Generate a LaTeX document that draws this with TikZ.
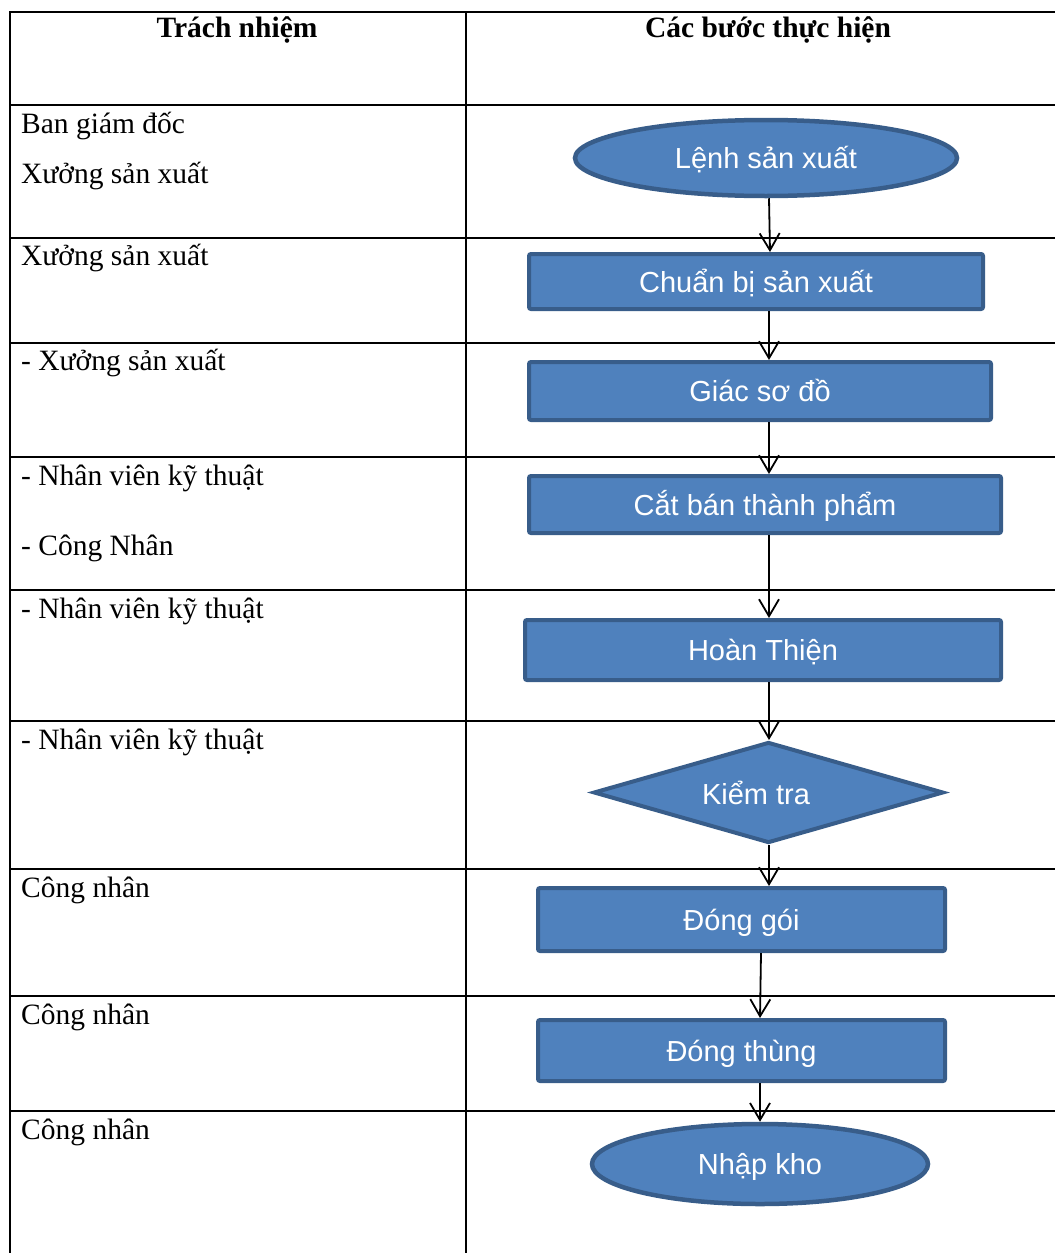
\documentclass[tikz,border=0pt]{standalone}
\usepackage{fontspec}
\setmainfont{Liberation Serif}
\newfontfamily\boxfont{Liberation Sans}
\usetikzlibrary{shapes.geometric,arrows.meta}
\definecolor{fillb}{HTML}{4F81BD}
\definecolor{lineb}{HTML}{385D8A}
\begin{document}
\begin{tikzpicture}[x=1pt,y=-1pt,
  tline/.style={line width=2pt},
  lbl/.style={anchor=base west,inner sep=0pt,font=\fontsize{29.5}{34}\selectfont},
  hdr/.style={anchor=base,inner sep=0pt,font=\fontsize{29.5}{34}\selectfont\bfseries},
  shapebase/.style={draw=lineb,fill=fillb,line width=4pt,inner sep=0pt,text=white,
    font=\boxfont\fontsize{29}{34}\selectfont,text height=21pt,text depth=0pt},
  stepbox/.style={shapebase,rectangle,rounded corners=2pt},
  term/.style={shapebase,ellipse,line width=4.5pt},
  decis/.style={shapebase,diamond},
  btext/.style={inner sep=0pt,text=white,font=\boxfont\fontsize{29}{34}\selectfont,text height=21pt,text depth=0pt},
  arr/.style={line width=1.8pt,-{Straight Barb[length=17pt,width=20pt]}}]
\useasboundingbox (0,0) rectangle (1055,1253);
% table
\draw[tline] (10,1253) -- (10,12) -- (1055,12);
\draw[tline] (466,12) -- (466,1253);
\foreach \yy in {105,238,343,457,590,721,869,996,1111}
  \draw[tline] (10,\yy) -- (1055,\yy);
% headers
\node[hdr] (h1) at (237,37) {Trách nhiệm};
\node[hdr] (h2) at (768,37) {Các bước thực hiện};
% left labels
\node[lbl] (l1) at (21,133) {Ban giám đốc};
\node[lbl] (l2) at (21,183) {Xưởng sản xuất};
\node[lbl] (l3) at (21,265) {Xưởng sản xuất};
\node[lbl] (l4) at (21,370) {- Xưởng sản xuất};
\node[lbl] (l5) at (21,485) {- Nhân viên kỹ thuật};
\node[lbl] (l6) at (21,555) {- Công Nhân};
\node[lbl] (l7) at (21,618) {- Nhân viên kỹ thuật};
\node[lbl] (l8) at (21,749) {- Nhân viên kỹ thuật};
\node[lbl] (l9) at (21,897) {Công nhân};
\node[lbl] (l10) at (21,1024) {Công nhân};
\node[lbl] (l11) at (21,1139) {Công nhân};
% flow shapes
\node[term,minimum width=382pt,minimum height=76pt] (e1) at (766,158) {Lệnh sản xuất};
\node[stepbox,minimum width=454pt,minimum height=55pt] (r2) at (756,281.5) {Chuẩn bị sản xuất};
\node[stepbox,minimum width=462pt,minimum height=58pt] (r3) at (760,391) {Giác sơ đồ};
\node[stepbox,minimum width=472pt,minimum height=57pt] (r4) at (765,504.5) {Cắt bán thành phẩm};
\node[stepbox,minimum width=476pt,minimum height=60pt] (r5) at (763,650) {Hoàn Thiện};
\node[decis,minimum width=350pt,minimum height=101pt] (d6) at (768.5,792.5) {};
\node[btext] (d6t) at (756,794) {Kiểm tra};
\node[stepbox,minimum width=407pt,minimum height=63pt] (r7) at (741.5,919.5) {Đóng gói};
\node[stepbox,minimum width=407pt,minimum height=61pt] (r8) at (741.5,1050.5) {Đóng thùng};
\node[term,minimum width=336pt,minimum height=80pt] (e9) at (760,1164) {Nhập kho};
% connectors
\draw[arr] ([xshift=3pt]e1.south) -- ([xshift=14pt]r2.north);
\draw[arr] ([xshift=13pt]r2.south) -- ([xshift=9pt]r3.north);
\draw[arr] ([xshift=9pt]r3.south) -- ([xshift=4pt]r4.north);
\draw[arr] ([xshift=4pt]r4.south) -- ([xshift=6pt]r5.north);
\draw[arr] ([xshift=6pt]r5.south) -- ([xshift=0.5pt]d6.north);
\draw[arr] ([xshift=0.5pt]d6.south) -- ([xshift=27.5pt]r7.north);
\draw[arr] ([xshift=19.5pt]r7.south) -- ([xshift=18.5pt]r8.north);
\draw[arr] ([xshift=18.5pt]r8.south) -- (e9.north);
\end{tikzpicture}
\end{document}
